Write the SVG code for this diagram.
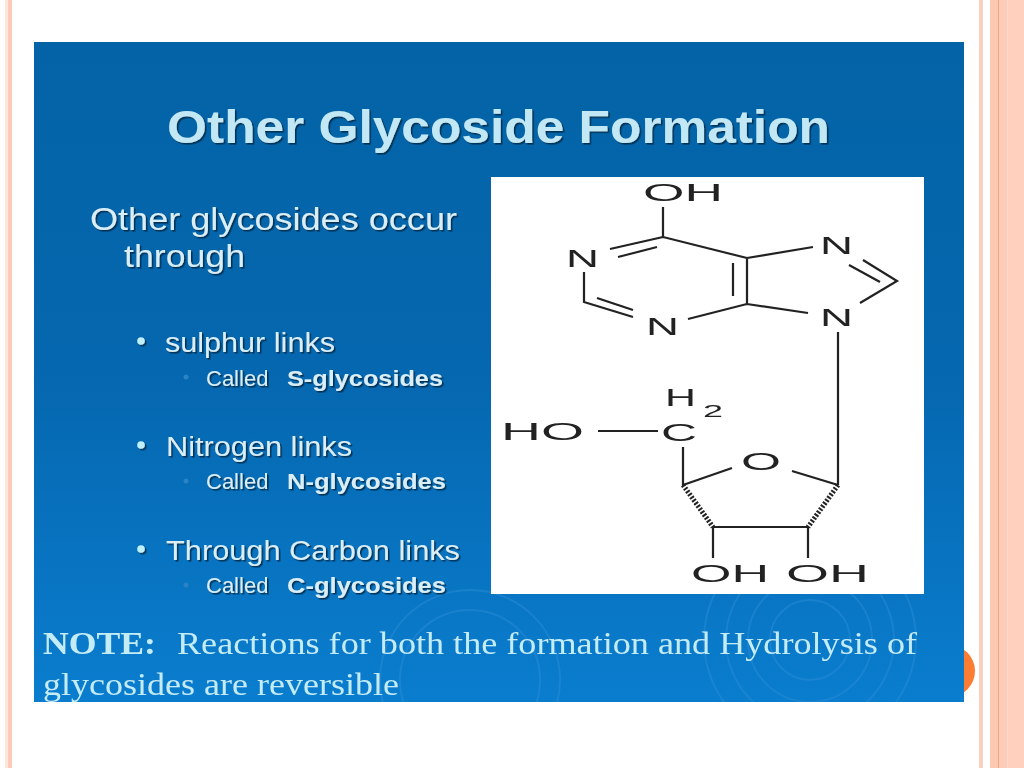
<svg xmlns="http://www.w3.org/2000/svg" width="1024" height="768" viewBox="0 0 1024 768">
<style>
.s{font-family:"Liberation Sans",Arial,sans-serif;fill:#d9eef6}
.b{font-weight:700}
.n{font-family:"Liberation Serif","Times New Roman",serif;fill:#c4ecf6;font-size:32px}
.m{font-family:"Liberation Sans",Arial,sans-serif;fill:#222;font-size:24px}
.bond{stroke:#222;stroke-width:2.2;fill:none}
.hash{stroke:#222;stroke-width:5;fill:none;stroke-dasharray:2 1.6}
.ring{fill:none;stroke:#2e8fd6;stroke-width:2;opacity:.45}
</style>
<defs>
<linearGradient id="bg" x1="0" y1="0" x2="0" y2="1">
<stop offset="0" stop-color="#0463a6"/><stop offset=".5" stop-color="#0567af"/><stop offset="1" stop-color="#0a7dce"/>
</linearGradient>
<filter id="shadow" x="-5%" y="-20%" width="110%" height="140%">
<feGaussianBlur in="SourceGraphic" stdDeviation=".45" result="t"/>
<feDropShadow in="t" dx="1.6" dy="1.6" stdDeviation=".7" flood-color="#03294a" flood-opacity=".85"/>
</filter>
<filter id="soft" x="-5%" y="-5%" width="110%" height="110%"><feGaussianBlur stdDeviation=".55"/></filter>
<clipPath id="panel"><rect x="34" y="42" width="930" height="660"/></clipPath>
</defs>
<rect width="1024" height="768" fill="#fff"/>
<g id="borders">
<rect x="5" y="0" width="3" height="768" fill="#fbe6dc"/>
<rect x="8" y="0" width="4" height="768" fill="#fdc9b8"/>
<rect x="979" y="0" width="4" height="768" fill="#fbcfbd"/>
<rect x="990" y="0" width="9" height="768" fill="#fdc8b2"/>
<rect x="998" y="0" width="1.5" height="768" fill="#f5a679"/>
<rect x="999.500" y="0" width="8" height="768" fill="#fdccb8"/>
<rect x="1007.500" y="0" width="16.500" height="768" fill="#fed0bd"/>
</g>
<circle id="page-dot" cx="949" cy="671" r="26" fill="#fb7d33"/>
<g id="panel-bg">
<rect x="34" y="42" width="930" height="660" fill="url(#bg)"/>
<g clip-path="url(#panel)">
<circle class="ring" cx="810" cy="640" r="40"/><circle class="ring" cx="810" cy="640" r="62"/><circle class="ring" cx="810" cy="640" r="84"/><circle class="ring" cx="810" cy="640" r="106"/>
<circle class="ring" cx="470" cy="680" r="70"/><circle class="ring" cx="470" cy="680" r="90"/>
</g>
</g>
<g id="title" filter="url(#shadow)">
<text class="s b" x="167" y="143" font-size="46" textLength="663" lengthAdjust="spacingAndGlyphs" style="fill:#c2e8f5">Other Glycoside Formation</text>
</g>
<g id="body" filter="url(#shadow)">
<text class="s" x="90" y="230" font-size="31" textLength="367" lengthAdjust="spacingAndGlyphs">Other glycosides occur</text>
<text class="s" x="124" y="267" font-size="31" textLength="121" lengthAdjust="spacingAndGlyphs">through</text>
<circle cx="141" cy="341" r="3.800" fill="#bff0fa"/>
<text class="s" x="165" y="352" font-size="27" textLength="170" lengthAdjust="spacingAndGlyphs">sulphur links</text>
<text class="s" x="206" y="386" font-size="22">Called</text>
<text class="s b" x="287" y="386" font-size="22" textLength="156" lengthAdjust="spacingAndGlyphs">S-glycosides</text>
<circle cx="141" cy="445" r="3.800" fill="#bff0fa"/>
<text class="s" x="166" y="456" font-size="27" textLength="186" lengthAdjust="spacingAndGlyphs">Nitrogen links</text>
<text class="s" x="206" y="489" font-size="22">Called</text>
<text class="s b" x="287" y="489" font-size="22" textLength="159" lengthAdjust="spacingAndGlyphs">N-glycosides</text>
<circle cx="141" cy="549" r="3.800" fill="#bff0fa"/>
<text class="s" x="166" y="560" font-size="27" textLength="294" lengthAdjust="spacingAndGlyphs">Through Carbon links</text>
<text class="s" x="206" y="593" font-size="22">Called</text>
<text class="s b" x="287" y="593" font-size="22" textLength="159" lengthAdjust="spacingAndGlyphs">C-glycosides</text>
</g>
<g id="sub-bullets" fill="#2a83c4">
<circle cx="186" cy="377" r="2.500"/><circle cx="186" cy="481" r="2.500"/><circle cx="186" cy="585" r="2.500"/>
</g>
<g id="molecule">
<rect x="491" y="177" width="433" height="417" fill="#fff"/>
<g filter="url(#soft)">
<path class="bond" d="M663 207V237L747 258M610 249L663 237M618 257L657 247M584 272V302L633 317M597 298L633 310M688 319L747 304V258M733 263V296M747 258L813 247M863 260L897 281L860 303M849 265L880 282M747 304L808 313M838 332V485M598 431H658M683 447V485L732 468M792 471L838 485M713 527H808M713 527V558M808 527V558"/>
<path class="hash" d="M683 485L713 527M838 485L808 527"/>
<text class="m" x="643" y="201" textLength="80" lengthAdjust="spacingAndGlyphs">OH</text>
<text class="m" x="566" y="267" textLength="33" lengthAdjust="spacingAndGlyphs">N</text>
<text class="m" x="646" y="335" textLength="33" lengthAdjust="spacingAndGlyphs">N</text>
<text class="m" x="820" y="254" textLength="33" lengthAdjust="spacingAndGlyphs">N</text>
<text class="m" x="820" y="326" textLength="33" lengthAdjust="spacingAndGlyphs">N</text>
<text class="m" x="665" y="406" textLength="31" lengthAdjust="spacingAndGlyphs">H</text>
<text class="m" x="703" y="417" font-size="16" textLength="20" lengthAdjust="spacingAndGlyphs" style="font-size:16px">2</text>
<text class="m" x="501" y="440" textLength="83" lengthAdjust="spacingAndGlyphs">HO</text>
<text class="m" x="661" y="441" textLength="36" lengthAdjust="spacingAndGlyphs">C</text>
<text class="m" x="741" y="470" textLength="40" lengthAdjust="spacingAndGlyphs">O</text>
<text class="m" x="691" y="582" textLength="78" lengthAdjust="spacingAndGlyphs">OH</text>
<text class="m" x="786" y="582" textLength="83" lengthAdjust="spacingAndGlyphs">OH</text>
</g>
</g>
<g id="note" clip-path="url(#panel)">
<g filter="url(#soft)">
<text class="n b" x="43" y="654" textLength="113" lengthAdjust="spacingAndGlyphs">NOTE:</text>
<text class="n" x="177" y="654" textLength="740" lengthAdjust="spacingAndGlyphs">Reactions for both the formation and Hydrolysis of</text>
<text class="n" x="43" y="695" textLength="356" lengthAdjust="spacingAndGlyphs">glycosides are reversible</text>
</g>
</g>
</svg>
